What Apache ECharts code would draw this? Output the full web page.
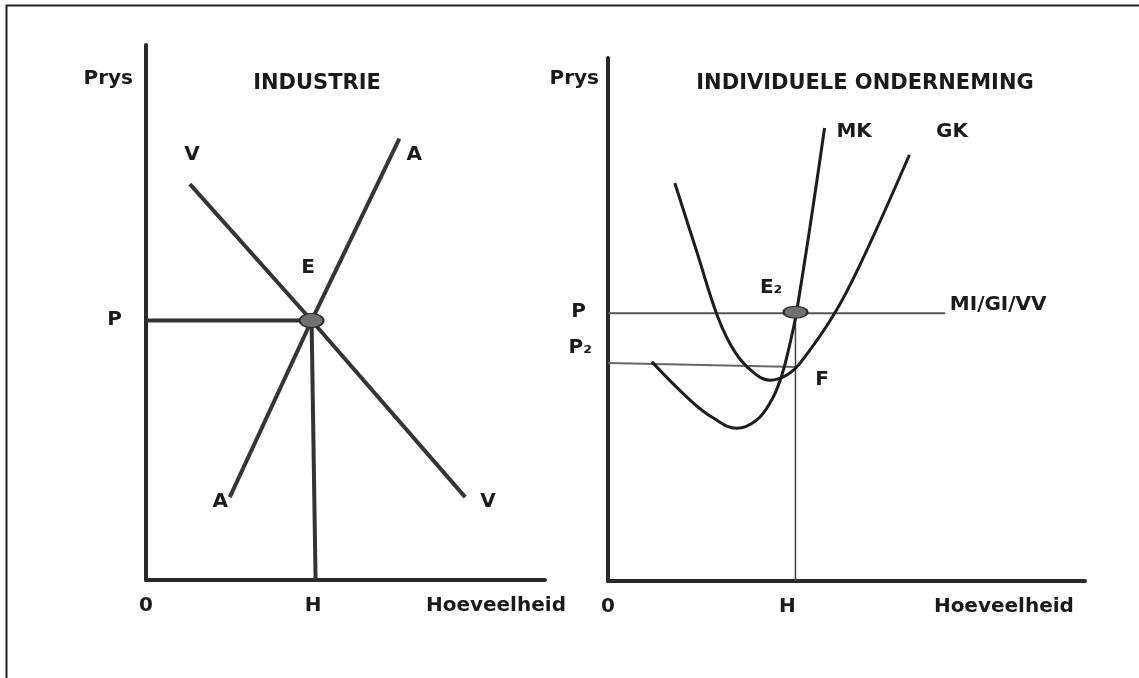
<!DOCTYPE html>
<html>
<head>
<meta charset="utf-8">
<title>Industrie en individuele onderneming</title>
<script src="https://cdn.jsdelivr.net/npm/echarts@6/dist/echarts.min.js"></script>
<style>
  html, body { margin: 0; padding: 0; background: #fff; }
  #chart { width: 1139px; height: 678px; }
</style>
</head>
<body>
<div id="chart"></div>
<script>
// ---- data (abstract units: quantity 0-10, price 0-10) ----
// left panel: industrie
const vraagLine = [[1.1, 7.4], [4.15, 4.85], [8.0, 1.55]]
const aanbodLine = [[2.1, 1.55], [4.15, 4.85], [6.35, 8.25]]
const pLineLeft = [[0, 4.85], [4.15, 4.85]]
const hLineLeft = [[4.15, 4.85], [4.25, 0]]
const eqLeft = [[4.15, 4.85]]
const leftNotes = [['V', 1.15, 7.94], ['A', 6.72, 7.94], ['E', 4.06, 5.83], ['A', 1.86, 1.46], ['V', 8.57, 1.46]]
const leftXTicks = [0, 4.19, 8.77]
const leftXNames = ['0', 'H', 'Hoeveelheid']
const leftYTicks = [4.86, 9.36]
const leftYNames = ['{p|P}', 'Prys']

// right panel: individuele onderneming
const mkCurve = [[0.92, 4.19], [1.72, 3.46], [2.2, 3.12], [2.7, 2.92], [3.12, 3.08], [3.43, 3.46],
  [3.61, 3.84], [3.75, 4.29], [3.96, 5.18], [4.54, 8.66]]
const gkCurve = [[1.4, 7.61], [1.87, 6.27], [2.31, 5.03], [2.66, 4.38], [3.02, 4.01], [3.4, 3.84],
  [3.75, 3.94], [4.03, 4.17], [4.72, 5.07], [5.28, 6.04], [6.32, 8.15]]
const pLineRight = [[0, 5.12], [7.07, 5.12]]
const p2Line = [[0, 4.17], [3.96, 4.09]]
const hLineRight = [[3.93, 5.12], [3.93, 0]]
const eqRight = [[3.93, 5.14]]
const rightNotes = [['MK', 5.16, 8.59], ['GK', 7.21, 8.59], ['E₂', 3.42, 5.6], ['F', 4.49, 3.84], ['MI/GI/VV', 8.18, 5.28]]
const rightXTicks = [0, 3.76, 8.3]
const rightXNames = ['0', 'H', 'Hoeveelheid']
const rightYTicks = [4.455, 5.14, 9.6]
const rightYNames = ['{p2|P₂}', '{p|P}', 'Prys']

const FONT = 'DejaVu Sans'
const ink = '#2a2a2a'
const textInk = '#1a1a1a'

const pickName = (ticks, names) => (v) => {
  let best = 0
  ticks.forEach((t, i) => { if (Math.abs(t - v) < Math.abs(ticks[best] - v)) best = i })
  return names[best]
}

const makeXAxis = (gridIndex, ticks, names) => ({
  type: 'value', gridIndex, min: 0, max: 10,
  axisLine: { show: true, lineStyle: { color: ink, width: 4 } },
  axisTick: { show: false },
  splitLine: { show: false },
  axisLabel: {
    customValues: ticks, margin: 16, color: textInk,
    fontFamily: FONT, fontWeight: 'bold', fontSize: 20,
    formatter: pickName(ticks, names)
  }
})

const makeYAxis = (gridIndex, ticks, names, margin, pPad, p2Pad) => ({
  type: 'value', gridIndex, min: 0, max: 10,
  axisLine: { show: true, lineStyle: { color: ink, width: 4 } },
  axisTick: { show: false },
  splitLine: { show: false },
  axisLabel: {
    customValues: ticks, margin, color: textInk,
    fontFamily: FONT, fontWeight: 'bold', fontSize: 20,
    formatter: pickName(ticks, names),
    rich: {
      p: { fontFamily: FONT, fontWeight: 'bold', fontSize: 20, color: textInk, padding: [0, pPad, 0, 0] },
      p2: { fontFamily: FONT, fontWeight: 'bold', fontSize: 20, color: textInk, padding: [0, p2Pad, 0, 0] }
    }
  }
})

const lineSeries = (idx, data, color, width) => ({
  type: 'line', xAxisIndex: idx, yAxisIndex: idx, data,
  symbol: 'none', silent: true, clip: false,
  lineStyle: { color, width }
})

// U-vormige kostekurwes
const curveSeries = (idx, data) => ({
  type: 'line', xAxisIndex: idx, yAxisIndex: idx, data,
  symbol: 'none', smooth: 0.4, silent: true, clip: false,
  lineStyle: { color: '#1c1c1c', width: 3 }
})

const noteSeries = (idx, notes) => ({
  type: 'scatter', xAxisIndex: idx, yAxisIndex: idx, silent: true, clip: false,
  symbolSize: 0,
  itemStyle: { opacity: 1 },
  data: notes.map(n => ({ value: [n[1], n[2]], name: n[0] })),
  label: {
    show: true, position: 'inside', formatter: '{b}', color: textInk,
    fontFamily: FONT, fontWeight: 'bold', fontSize: 20
  }
})

const dotSeries = (idx, data, size) => ({
  type: 'scatter', xAxisIndex: idx, yAxisIndex: idx, data, silent: true, z: 5,
  symbol: 'circle', symbolSize: size,
  itemStyle: { color: '#707070', borderColor: '#2a2a2a', borderWidth: 1.5, opacity: 1 }
})

const chart = echarts.init(document.getElementById('chart'))

chart.setOption({
  backgroundColor: '#fff',
  animation: false,
  graphic: [{
    type: 'rect', silent: true,
    shape: { x: 6.5, y: 5.5, width: 1200, height: 800 },
    style: { fill: 'none', stroke: '#222', lineWidth: 2 }
  }],
  title: [
    { text: 'INDUSTRIE', left: 312, top: 68, textAlign: 'center',
      textStyle: { fontFamily: FONT, fontWeight: 'bold', fontSize: 21, color: textInk } },
    { text: 'INDIVIDUELE ONDERNEMING', left: 860, top: 68, textAlign: 'center',
      textStyle: { fontFamily: FONT, fontWeight: 'bold', fontSize: 21, color: textInk } }
  ],
  grid: [
    { left: 146, top: 45, width: 399, height: 535 },
    { left: 608, top: 58, width: 477, height: 523 }
  ],
  xAxis: [
    makeXAxis(0, leftXTicks, leftXNames),
    makeXAxis(1, rightXTicks, rightXNames)
  ],
  yAxis: [
    makeYAxis(0, leftYTicks, leftYNames, 13, 11, 0),
    makeYAxis(1, rightYTicks, rightYNames, 9, 13, 7)
  ],
  series: [
    // industrie
    lineSeries(0, pLineLeft, '#333', 4),
    lineSeries(0, hLineLeft, '#333', 4),
    lineSeries(0, vraagLine, '#353535', 4),
    lineSeries(0, aanbodLine, '#353535', 4),
    dotSeries(0, eqLeft, [24, 14]),
    noteSeries(0, leftNotes),
    // individuele onderneming
    lineSeries(1, pLineRight, '#555', 2),
    lineSeries(1, p2Line, '#666', 2),
    lineSeries(1, hLineRight, '#444', 1.5),
    curveSeries(1, mkCurve),
    curveSeries(1, gkCurve),
    dotSeries(1, eqRight, [24, 12]),
    noteSeries(1, rightNotes)
  ]
})

window.addEventListener('resize', () => chart.resize())
</script>
</body>
</html>
